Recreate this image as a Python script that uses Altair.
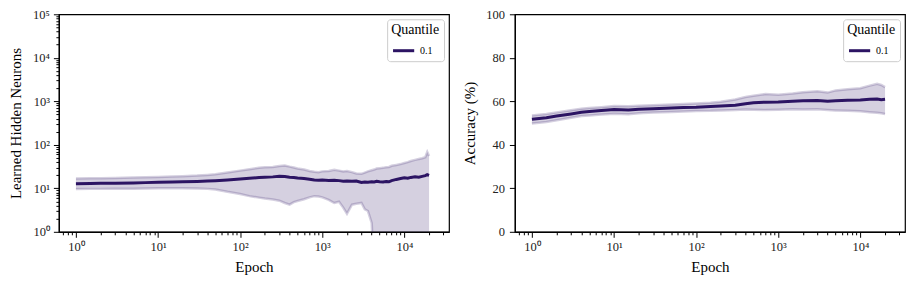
import altair as alt
import pandas as pd

# ---------------- data ----------------
L_epoch = [1, 1.5, 2, 3, 5, 7, 10, 15, 20, 30, 40, 50, 70, 100, 130, 170, 200, 250, 300, 350,
           400, 450, 500, 600, 700, 800, 900, 1000, 1200, 1400, 1600, 1800, 2000, 2300, 2600,
           3000, 3300, 3600, 4000, 4300, 4600, 5000, 5500, 6000, 6500, 7000, 8000, 9000, 10000,
           11000, 12000, 13500, 15000, 16500, 18000, 19000, 20000]
L_med = [12.8, 12.9, 13.0, 13.1, 13.3, 13.5, 13.7, 13.9, 14.1, 14.4, 14.7, 15.0, 15.6, 16.3, 17.0,
         17.6, 18.0, 18.3, 18.8, 18.6, 18.0, 17.8, 17.2, 16.8, 16.2, 15.6, 15.3, 15.5, 15.2, 15.4,
         15.0, 14.6, 14.8, 14.5, 14.7, 13.6, 14.0, 13.8, 14.2, 14.0, 14.5, 14.2, 14.0, 14.4, 14.1,
         15.0, 16.0, 16.8, 17.4, 17.0, 17.8, 18.3, 18.0, 18.8, 19.5, 20.5, 19.8]
L_hi = [16.9, 17.0, 17.1, 17.3, 17.6, 17.9, 18.2, 18.6, 19.0, 19.6, 20.3, 21.0, 23.0, 25.5, 27.5,
        29.5, 30.5, 31.0, 32.5, 33.5, 31.5, 30.0, 28.5, 27.0, 25.0, 24.0, 23.5, 24.5, 25.0, 26.5,
        25.5, 24.5, 25.0, 23.5, 22.0, 21.5, 23.0, 24.5, 26.0, 27.0, 28.5, 29.0, 29.5, 30.5, 31.0,
        33.0, 34.5, 36.0, 38.0, 40.0, 42.5, 45.0, 47.0, 49.0, 52.0, 68.0, 55.0]
L_lo = [9.6, 9.7, 9.7, 9.8, 9.8, 9.9, 10.0, 10.0, 10.0, 9.9, 9.7, 9.4, 8.3, 7.4, 6.6,
        6.1, 5.8, 5.5, 5.2, 4.6, 4.2, 4.8, 5.1, 5.6, 6.2, 6.6, 6.5, 6.2, 5.4, 4.6,
        4.9, 3.6, 2.6, 4.2, 4.4, 4.6, 3.3, 3.0, 1.6, 0.1, 0.1, 0.1, 0.1, 0.1, 0.1,
        0.1, 0.1, 0.1, 0.1, 0.1, 0.1, 0.1, 0.1, 0.1, 0.1, 0.1, 0.1]

R_epoch = [1, 1.5, 2, 3, 4, 5, 7, 10, 15, 20, 30, 50, 70, 100, 150, 200, 300, 400, 500, 700,
           1000, 1500, 2000, 3000, 4000, 5000, 7000, 10000, 13000, 16000, 18000, 20000]
R_med = [51.7, 52.4, 53.2, 54.2, 55.0, 55.3, 55.8, 56.2, 56.0, 56.3, 56.6, 56.9, 57.2, 57.3, 57.6,
         57.8, 58.2, 58.9, 59.3, 59.6, 59.7, 60.0, 60.2, 60.4, 60.0, 60.2, 60.5, 60.6, 60.9, 61.0,
         60.7, 60.9]
R_hi = [53.5, 54.2, 54.9, 55.9, 56.6, 56.9, 57.3, 57.8, 57.7, 57.9, 58.2, 58.5, 58.8, 59.0, 59.3,
        59.8, 60.8, 62.0, 62.5, 63.3, 63.0, 63.6, 64.2, 64.6, 64.0, 65.0, 65.5, 66.0, 67.2, 68.0,
        67.5, 66.5]
R_lo = [49.8, 50.5, 51.3, 52.4, 53.2, 53.5, 53.9, 54.3, 54.0, 54.5, 54.8, 55.1, 55.3, 55.5, 55.6,
        55.8, 56.0, 56.2, 56.1, 56.0, 56.1, 56.3, 56.2, 56.3, 56.0, 55.8, 55.6, 55.4, 55.0, 54.7,
        54.5, 54.2]

quantile = ["0.1"]
x_ticks = [m * 10 ** e for e in range(-1, 5) for m in range(1, 10) if 0.6 < m * 10 ** e < 35000]
y_ticks_log = [m * 10 ** e for e in range(0, 5) for m in range(1, 10)] + [100000]
y_ticks_acc = [0, 20, 40, 60, 80, 100]

LINE = "#2c1463"
FONT = "Liberation Serif"
DEC = "(log(datum.value)/LN10)"
IS_MAJOR = f"abs({DEC} - round({DEC})) < 0.001"
SUP = f"{IS_MAJOR} ? '10' + ['⁰','¹','²','³','⁴','⁵'][round({DEC})] : ''"
TICK_SIZE = {"condition": {"test": IS_MAJOR, "value": 5.5}, "value": 3}

x_dom = [0.62, 35000]


def panel(epochs, med, lo, hi, ylog, ytitle, ytp):
    df = pd.DataFrame({"epoch": epochs, "med": med, "lo": lo, "hi": hi,
                       "q": quantile * len(epochs)})
    if ylog:
        yscale = alt.Scale(type="log", domain=[1, 100000])
        yaxis = alt.Axis(values=y_ticks_log, labelExpr=SUP, title=ytitle, grid=False,
                         tickSize=TICK_SIZE, labelOverlap=False, labelPadding=4,
                         titlePadding=ytp)
    else:
        yscale = alt.Scale(domain=[0, 100])
        yaxis = alt.Axis(values=y_ticks_acc, title=ytitle, grid=False, tickSize=5.5,
                         labelPadding=5, titlePadding=ytp)
    xscale = alt.Scale(type="log", domain=x_dom)
    xaxis = alt.Axis(values=x_ticks, labelExpr=SUP, title="Epoch", grid=False,
                     tickSize=TICK_SIZE, labelOverlap=False, labelPadding=3,
                     titlePadding=7)
    base = alt.Chart(df)
    X = alt.X("epoch:Q", scale=xscale, axis=xaxis)
    band = base.mark_area(color=LINE, opacity=0.2, clip=True).encode(
        x=X, y=alt.Y("lo:Q", scale=yscale, axis=yaxis), y2="hi:Q",
    )
    edge_hi = base.mark_line(color=LINE, opacity=0.2, strokeWidth=2.5, clip=True).encode(
        x=X, y=alt.Y("hi:Q", scale=yscale, axis=yaxis),
    )
    edge_lo = base.mark_line(color=LINE, opacity=0.2, strokeWidth=2.5, clip=True).encode(
        x=X, y=alt.Y("lo:Q", scale=yscale, axis=yaxis),
    )
    line = base.mark_line(strokeWidth=3, clip=True).encode(
        x=X, y=alt.Y("med:Q", scale=yscale, axis=yaxis),
        color=alt.Color("q:N", scale=alt.Scale(domain=quantile, range=[LINE]),
                        legend=alt.Legend(title="Quantile", orient="top-right",
                                          symbolType="stroke", symbolStrokeWidth=3,
                                          symbolSize=450, titleFontSize=14,
                                          labelFontSize=10, titleFontWeight="normal",
                                          labelColor="black", titleColor="black",
                                          titlePadding=1, rowPadding=0,
                                          fillColor="white", strokeColor="#cccccc",
                                          cornerRadius=3, padding=4, offset=5)),
    )
    return alt.layer(band, edge_hi, edge_lo, line).properties(width=391, height=218)


left = panel(L_epoch, L_med, L_lo, L_hi, True, "Learned Hidden Neurons", 9)
right = panel(R_epoch, R_med, R_lo, R_hi, False, "Accuracy (%)", 8)

chart = alt.hconcat(left, right, spacing=12).resolve_scale(
    color="independent"
).resolve_legend(color="independent").configure_view(
    stroke="black", strokeWidth=1.2
).configure_axis(
    labelFont=FONT, titleFont=FONT, labelFontSize=12.5, titleFontSize=15,
    titleFontWeight="normal", labelColor="#222", titleColor="black",
    domainColor="black", tickColor="black", domainWidth=1.2
).configure_legend(
    labelFont=FONT, titleFont=FONT
).properties(padding={"left": 0, "top": -1, "right": 0, "bottom": 0})

chart.save("out.html", embed_options={"renderer": "svg", "actions": False})
